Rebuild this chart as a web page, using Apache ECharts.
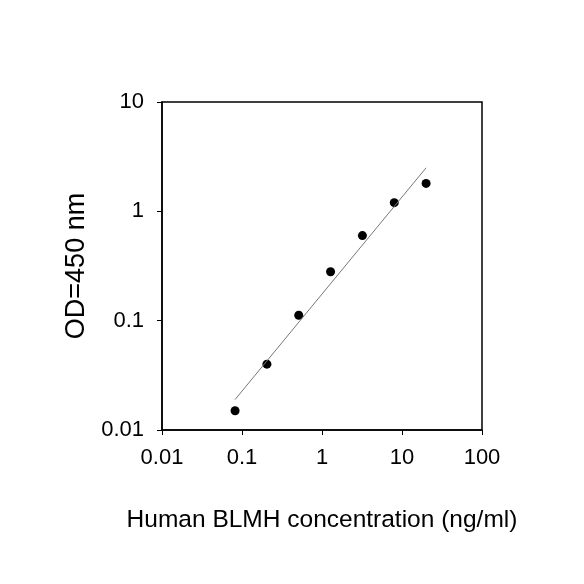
<!DOCTYPE html>
<html>
<head>
<meta charset="utf-8">
<script src="https://cdn.jsdelivr.net/npm/echarts@6/dist/echarts.min.js"></script>
<style>
  html, body { margin: 0; padding: 0; background: #fff; }
  #chart { width: 584px; height: 584px; }
</style>
</head>
<body>
<div id="chart"></div>
<script>
  // standard curve points (2.5-fold dilutions)
  var concentrations = [0.08192, 0.2048, 0.512, 1.28, 3.2, 8, 20];
  var odValues = [0.015, 0.04, 0.112, 0.28, 0.6, 1.2, 1.8];
  // fitted line end points
  var fitX = [0.08192, 20];
  var fitY = [0.019, 2.5];
  var xTicks = [0.01, 0.1, 1, 10, 100];
  var yTicks = [0.01, 0.1, 1, 10];

  var points = concentrations.map(function (c, i) { return [c, odValues[i]]; });
  var fitLine = fitX.map(function (x, i) { return [x, fitY[i]]; });

  var font = 'Liberation Sans, Arial, sans-serif';
  var chart = echarts.init(document.getElementById('chart'));
  chart.setOption({
    animation: false,
    grid: {
      left: 162, right: 102, top: 102, bottom: 154,
      show: true, borderColor: '#000', borderWidth: 1.5
    },
    xAxis: {
      type: 'log', logBase: 10, min: xTicks[0], max: xTicks[xTicks.length - 1],
      name: 'Human BLMH concentration (ng/ml)', nameLocation: 'middle', nameGap: 78,
      nameTextStyle: { fontFamily: font, fontSize: 24.5, color: '#000' },
      axisLine: { lineStyle: { color: '#000', width: 1.5 } },
      axisTick: { length: 5, lineStyle: { color: '#000' } },
      minorTick: { show: false },
      splitLine: { show: false },
      axisLabel: {
        margin: 17, fontFamily: font, fontSize: 22, color: '#000',
        formatter: function (v) { return String(+v.toPrecision(3)); }
      }
    },
    yAxis: {
      type: 'log', logBase: 10, min: yTicks[0], max: yTicks[yTicks.length - 1],
      name: 'OD=450 nm', nameLocation: 'middle', nameGap: 71,
      nameTextStyle: { fontFamily: font, fontSize: 27, color: '#000' },
      axisLine: { lineStyle: { color: '#000', width: 1.5 } },
      axisTick: { length: 5, lineStyle: { color: '#000' } },
      minorTick: { show: false },
      splitLine: { show: false },
      axisLabel: {
        margin: 18, fontFamily: font, fontSize: 22, color: '#000',
        formatter: function (v) { return String(+v.toPrecision(3)); }
      }
    },
    series: [
      {
        type: 'line', data: fitLine, symbol: 'none',
        lineStyle: { color: '#777', width: 1 }
      },
      {
        type: 'scatter', data: points, symbol: 'circle', symbolSize: 9,
        itemStyle: { color: '#000', opacity: 1 }
      }
    ]
  });
</script>
</body>
</html>
